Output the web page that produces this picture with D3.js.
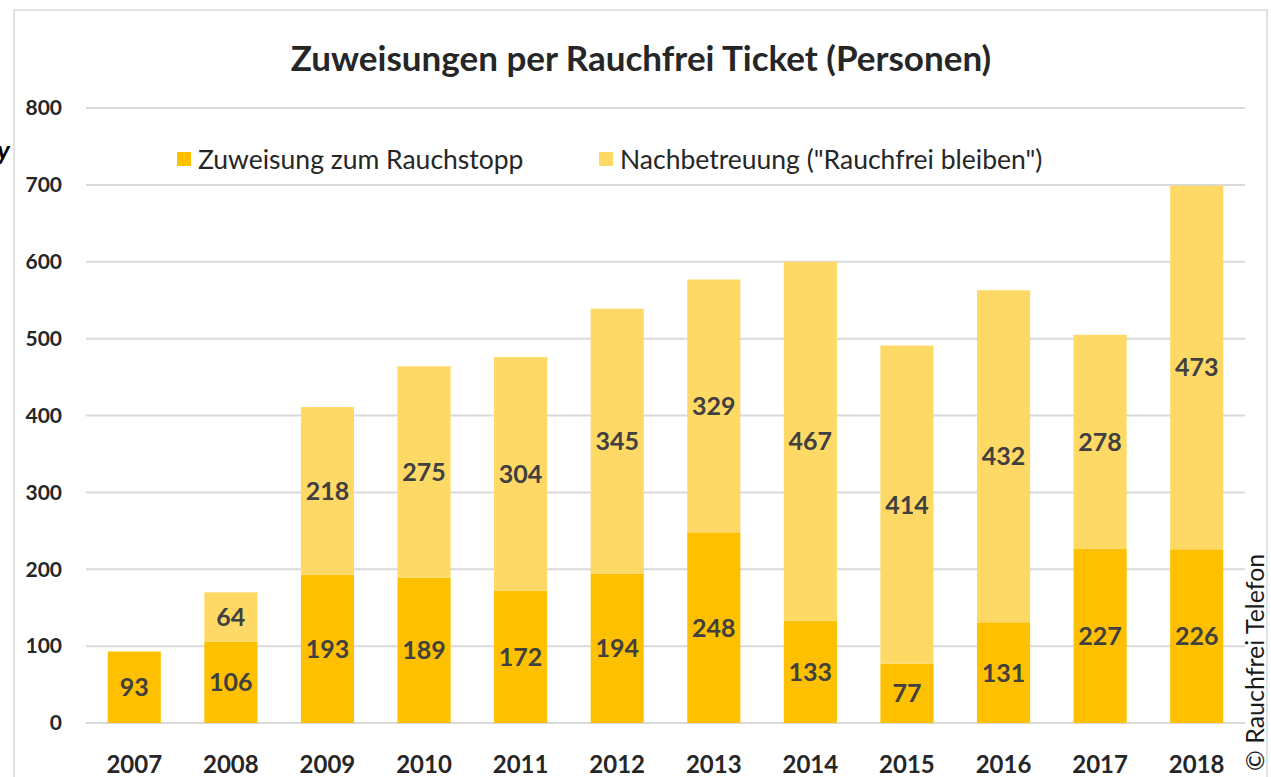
<!DOCTYPE html>
<html>
<head>
<meta charset="utf-8">
<script src="https://cdn.jsdelivr.net/npm/d3@7"></script>
<style>
  body { margin: 0; background: #fff; }
  svg { font-family: Lato, "Open Sans", sans-serif; }
</style>
</head>
<body>
<div id="chart"></div>
<script>
(function(){

const years = ["2007","2008","2009","2010","2011","2012","2013","2014","2015","2016","2017","2018"];
const zuweisung = [93,106,193,189,172,194,248,133,77,131,227,226];
const nachbetreuung = [0,64,218,275,304,345,329,467,414,432,278,473];
const seriesNames = ["Zuweisung zum Rauchstopp", "Nachbetreuung (\"Rauchfrei bleiben\")"];
const yTicks = [0,100,200,300,400,500,600,700,800];

const width = 1271, height = 777;
const colors = ["#FFC000", "#FFD966"];

const svg = d3.select("#chart").append("svg")
    .attr("width", width)
    .attr("height", height);

// outer frame
svg.append("rect")
    .attr("x", 14).attr("y", 10)
    .attr("width", 1253).attr("height", 780)
    .attr("fill", "none")
    .attr("stroke", "#d9d9d9")
    .attr("stroke-width", 1.5);

// cut-off fragment at the left edge
svg.append("text")
    .attr("x", -3).attr("y", 160)
    .attr("font-size", 26).attr("font-weight", "bold")
    .attr("font-style", "italic")
    .text("y");

const x = d3.scaleBand()
    .domain(years)
    .range([86, 1245])
    .paddingInner(0.45)
    .paddingOuter(0.225);

const y = d3.scaleLinear()
    .domain([0, 800])
    .range([723, 108]);

// gridlines
svg.append("g").selectAll("line")
    .data(yTicks)
    .enter().append("line")
    .attr("x1", 86).attr("x2", 1245)
    .attr("y1", d => y(d)).attr("y2", d => y(d))
    .attr("stroke", "#d9d9d9")
    .attr("stroke-width", 2);

// y labels
svg.append("g").selectAll("text")
    .data(yTicks)
    .enter().append("text")
    .attr("x", 62)
    .attr("y", d => y(d))
    .attr("dy", "0.35em")
    .attr("text-anchor", "end")
    .attr("font-size", 21)
    .attr("font-weight", "bold")
    .attr("fill", "#262626")
    .text(d => d);

// stacked data
const table = years.map((yr, i) => ({ year: yr, a: zuweisung[i], b: nachbetreuung[i] }));
const stack = d3.stack().keys(["a", "b"])(table);

const layers = svg.append("g").selectAll("g")
    .data(stack)
    .enter().append("g")
    .attr("fill", (d, i) => colors[i]);

layers.selectAll("rect")
    .data(d => d)
    .enter().append("rect")
    .attr("x", d => x(d.data.year))
    .attr("width", x.bandwidth())
    .attr("y", d => y(d[1]))
    .attr("height", d => y(d[0]) - y(d[1]));

// value labels
layers.selectAll("text")
    .data(d => d.filter(s => s[1] - s[0] > 0))
    .enter().append("text")
    .attr("x", d => x(d.data.year) + x.bandwidth() / 2)
    .attr("y", d => y((d[0] + d[1]) / 2))
    .attr("dy", "0.36em")
    .attr("text-anchor", "middle")
    .attr("font-size", 25)
    .attr("font-weight", "bold")
    .attr("fill", "#404040")
    .text(d => d[1] - d[0]);

// year labels
svg.append("g").selectAll("text")
    .data(years)
    .enter().append("text")
    .attr("x", d => x(d) + x.bandwidth() / 2)
    .attr("y", 773)
    .attr("text-anchor", "middle")
    .attr("font-size", 24)
    .attr("font-weight", "bold")
    .attr("fill", "#262626")
    .text(d => d);

// title
svg.append("text")
    .attr("x", 641).attr("y", 71)
    .attr("text-anchor", "middle")
    .attr("font-size", 35)
    .attr("font-weight", "bold")
    .attr("fill", "#262626")
    .text("Zuweisungen per Rauchfrei Ticket (Personen)");

// legend
const legendX = [177, 599];
const legend = svg.append("g").selectAll("g")
    .data(seriesNames)
    .enter().append("g")
    .attr("transform", (d, i) => `translate(${legendX[i]},152)`);
legend.append("rect")
    .attr("width", 14).attr("height", 14)
    .attr("fill", (d, i) => colors[i]);
legend.append("text")
    .attr("x", 21).attr("y", 7)
    .attr("dy", "0.36em")
    .attr("font-size", 26.5)
    .attr("fill", "#262626")
    .text(d => d);

// copyright
svg.append("text")
    .attr("transform", "translate(1264,771) rotate(-90)")
    .attr("font-size", 25)
    .attr("fill", "#1a1a1a")
    .text("© Rauchfrei Telefon");

})();
</script>
</body>
</html>
